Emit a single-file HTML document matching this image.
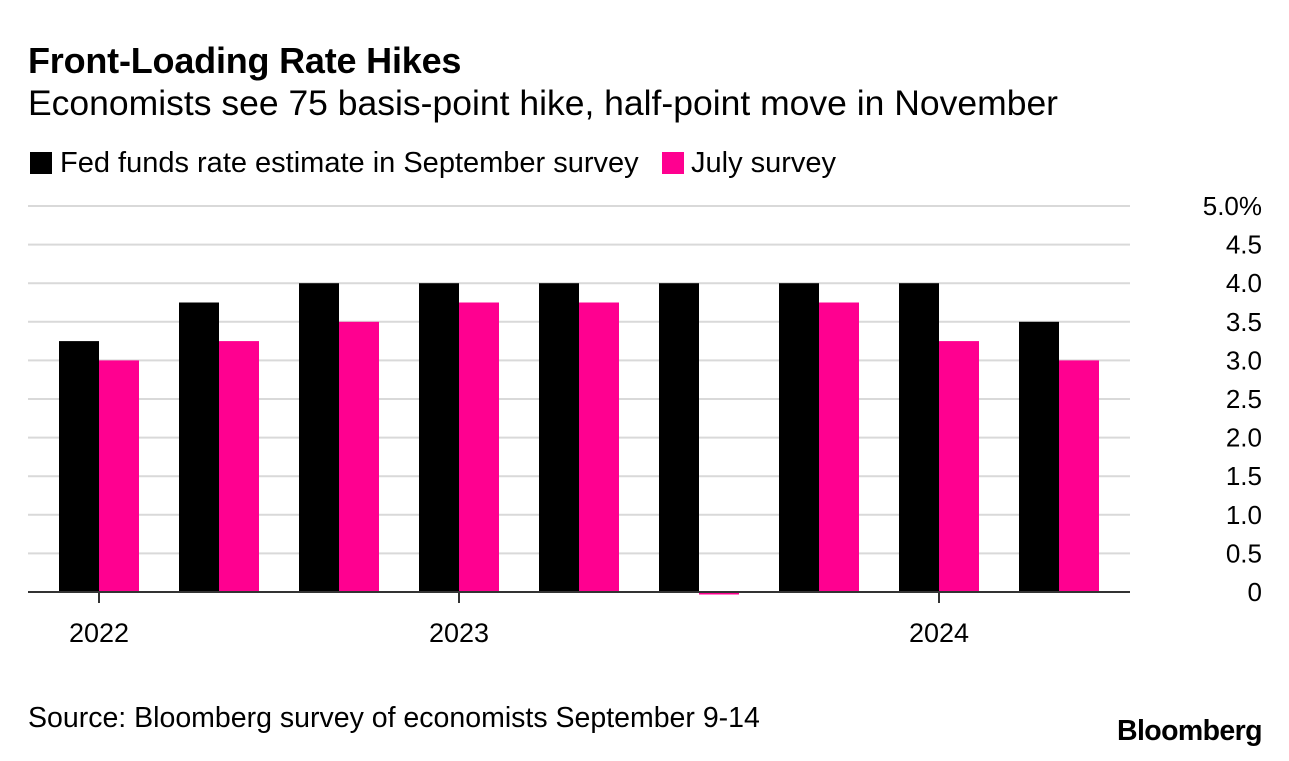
<!DOCTYPE html>
<html><head><meta charset="utf-8"><style>
body{margin:0;background:#fff;width:1289px;height:756px;overflow:hidden;font-family:"Liberation Sans",sans-serif;}
</style></head><body>
<svg width="1289" height="756" xmlns="http://www.w3.org/2000/svg" font-family="Liberation Sans, sans-serif">
<text x="28" y="73" font-size="36" font-weight="bold" letter-spacing="-0.2" fill="#000">Front-Loading Rate Hikes</text>
<text x="28" y="115" font-size="35.5" fill="#000">Economists see 75 basis-point hike, half-point move in November</text>
<g>
<rect x="30" y="152" width="22" height="22" fill="#000"/>
<text x="60" y="172" font-size="29">Fed funds rate estimate in September survey</text>
<rect x="662" y="152" width="22" height="22" fill="#ff0090"/>
<text x="691" y="172" font-size="29">July survey</text>
</g>
<g id="grid"></g><g id="bars"></g><g id="axis"></g>
<text x="28" y="727" font-size="28.5">Source: Bloomberg survey of economists September 9-14</text>
<text x="1262" y="740" font-size="28.5" font-weight="bold" text-anchor="end" letter-spacing="-0.6">Bloomberg</text>
</svg>
<script>
const categories=["2022-1","2022-2","2022-3","2023-1","2023-2","2023-3","2023-4","2024-1","2024-2"];
const september=[3.25,3.75,4,4,4,4,4,4,3.5];
const july=[3.0,3.25,3.5,3.75,3.75,0,3.75,3.25,3.0];
const yTicks=[0,0.5,1,1.5,2,2.5,3,3.5,4,4.5,5];
const yearLabels=["2022","2023","2024"];
const yearIdx=[0,3,7];
const NS="http://www.w3.org/2000/svg";
const y=v=>592-v*77.2;
const xc=i=>99+120*i;
function mk(tag,attrs,parent){const e=document.createElementNS(NS,tag);for(const k in attrs)e.setAttribute(k,attrs[k]);document.getElementById(parent).appendChild(e);return e;}
yTicks.forEach((t,i)=>{
 if(t>0){const l=mk('line',{x1:28,x2:1130,y1:y(t),y2:y(t),stroke:'#d9d9d9','stroke-width':2},'grid');
 
 }
 const tx=mk('text',{x:1262,y:y(t)+9,'font-size':26,'text-anchor':'end'},'grid');
 tx.textContent=t===0?'0':(t===5?'5.0%':t.toFixed(1));
 
 
});
categories.forEach((c,i)=>{
 const b=mk('rect',{x:xc(i)-40,y:y(september[i]),width:40,height:september[i]*77.2,fill:'#000'},'bars');
 
 
 const h=july[i]*77.2;
 const p=mk('rect',{x:xc(i),y:h>0?y(july[i]):592,width:40,height:h>0?h:2.5,fill:'#ff0090'},'bars');
 
 
});
const ax=mk('line',{x1:28,x2:1130,y1:592,y2:592,stroke:'#333','stroke-width':2},'axis');


yearLabels.forEach((lab,k)=>{
 const x=xc(yearIdx[k]);
 const t=mk('line',{x1:x,x2:x,y1:592,y2:603,stroke:'#333','stroke-width':2},'axis');
 
 
 const tx=mk('text',{x:x,y:642,'font-size':27,'text-anchor':'middle'},'axis');
 tx.textContent=lab;
 
 
});
</script>
</body></html>
